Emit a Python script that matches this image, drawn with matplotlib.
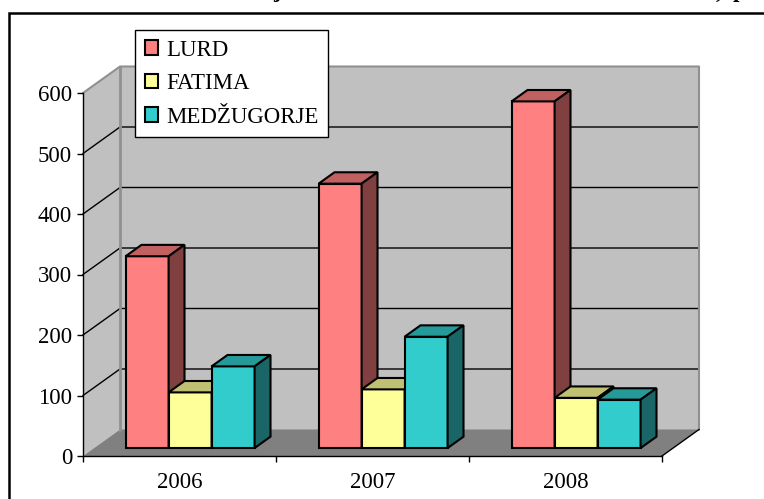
import matplotlib
matplotlib.use('Agg')

import matplotlib.pyplot as plt
from matplotlib.patches import Polygon, Rectangle, Patch
from matplotlib.lines import Line2D

years = ['2006', '2007', '2008']
series_names = ['LURD', 'FATIMA', 'MEDŽUGORJE']
lurd = [317, 437, 573]
fatima = [92, 97, 83]
medjugorje = [135, 184, 80]

# front, top, side shades (Excel 3D look)
shades = [('#FF8080', '#C06060', '#804040'),
          ('#FFFF99', '#C0C073', '#80804D'),
          ('#33CCCC', '#269999', '#1A6666')]

plt.rcParams['font.family'] = ['Liberation Serif', 'DejaVu Serif']

W, H = 764, 499
fig = plt.figure(figsize=(W / 100, H / 100), dpi=100)
ax = fig.add_axes([83 / W, 1 - 456 / H, 579 / W, 363 / H])
ax.set_xlim(0, 3)
ax.set_ylim(0, 600)
ax.set_facecolor('none')

# oblique depth in data units
DX = 37 / 193.0
DY = 26.5 / 0.605


def proj(x, v, d):
	return (x + d * DX, v + d * DY)


def poly(pts, fc, ec='black', lw=1.5, z=1):
	ax.add_patch(Polygon(pts, closed=True, facecolor=fc, edgecolor=ec,
	                     linewidth=lw, clip_on=False, zorder=z, joinstyle='miter'))


ymax = 600
# walls and floor
poly([proj(0, 0, 1), proj(3, 0, 1), proj(3, ymax, 1), proj(0, ymax, 1)], '#C0C0C0', ec='none')
poly([proj(0, 0, 0), proj(0, 0, 1), proj(0, ymax, 1), proj(0, ymax, 0)], '#C0C0C0', ec='none')
poly([proj(0, 0, 0), proj(3, 0, 0), proj(3, 0, 1), proj(0, 0, 1)], '#808080', ec='none')

for v in range(100, ymax, 100):
	pts = [proj(0, v, 0), proj(0, v, 1), proj(3, v, 1)]
	ax.add_line(Line2D([p[0] for p in pts], [p[1] for p in pts], color='black',
	                   lw=1.0, clip_on=False, zorder=1.2))

edge = [proj(0, ymax, 0), proj(0, ymax, 1), proj(3, ymax, 1), proj(3, 0, 1)]
ax.add_line(Line2D([p[0] for p in edge], [p[1] for p in edge], color='#909090',
                   lw=1.5, clip_on=False, zorder=1.2))
vert = [proj(0, 0, 1), proj(0, ymax, 1)]
ax.add_line(Line2D([p[0] for p in vert], [p[1] for p in vert], color='#909090',
                   lw=2.0, clip_on=False, zorder=1.2))
rf = [proj(3, 0, 0), proj(3, 0, 1)]
ax.add_line(Line2D([p[0] for p in rf], [p[1] for p in rf], color='black',
                   lw=1.0, clip_on=False, zorder=1.2))

# bars
gap = 31.5 / 193.0
bw = 43 / 193.0
d0, d1 = 0.30, 0.73
data = [lurd, fatima, medjugorje]
for i in range(len(years)):
	for j, vals in enumerate(data):
		v = vals[i]
		x0 = i + gap + j * bw
		x1 = x0 + bw
		front, top, side = shades[j]
		z = 2 + j * 0.01 + i * 0.1
		poly([proj(x0, 0, d0), proj(x1, 0, d0), proj(x1, v, d0), proj(x0, v, d0)], front, z=z)
		poly([proj(x0, v, d0), proj(x1, v, d0), proj(x1, v, d1), proj(x0, v, d1)], top, z=z)
		poly([proj(x1, 0, d0), proj(x1, 0, d1), proj(x1, v, d1), proj(x1, v, d0)], side, z=z)

# axes styling
for s in ['top', 'right']:
	ax.spines[s].set_visible(False)
for s in ['left', 'bottom']:
	ax.spines[s].set_linewidth(1.0)
	ax.spines[s].set_zorder(5)
ax.set_yticks(range(0, 601, 100))
ax.tick_params(axis='y', direction='out', length=4.3, width=1, pad=3.5, labelsize=16.5)
ax.set_xticks([0, 1, 2, 3])
ax.set_xticklabels([])
ax.set_xticks([0.5, 1.5, 2.5], minor=True)
ax.set_xticklabels(years, minor=True)
ax.tick_params(axis='x', which='major', direction='out', length=4.3, width=1)
ax.tick_params(axis='x', which='minor', length=0, pad=11.5, labelsize=16.5)

# legend
handles = [Patch(facecolor=shades[k][0], edgecolor='black', linewidth=1.5) for k in range(3)]
leg = fig.legend(handles, series_names, loc='upper left',
                 bbox_to_anchor=(135 / W, 1 - 30 / H), borderaxespad=0,
                 fontsize=16.5, frameon=True, fancybox=False, shadow=False,
                 framealpha=1, facecolor='white',
                 handlelength=0.6, handleheight=0.6, handletextpad=0.35,
                 labelspacing=0.55, borderpad=0.42)
leg.get_frame().set_edgecolor('black')
leg.get_frame().set_linewidth(1.0)
leg.set_zorder(10)

# outer frame and clipped title remnants
fig.add_artist(Rectangle((9 / W, -0.2), 1.2, 1.2 - 12.5 / H, transform=fig.transFigure,
                         facecolor='none', edgecolor='black', linewidth=1.8))
fig.text(277 / W, 1 + 3 / H, 'j', fontsize=16.5, fontweight='bold', ha='center', va='baseline')
fig.text(719 / W, 1 + 2 / H, ',', fontsize=16.5, fontweight='bold', ha='center', va='baseline')
fig.text(733 / W, 1 + 3 / H, 'p', fontsize=16.5, fontweight='bold', ha='left', va='baseline')

plt.savefig('out.png', dpi=100)
